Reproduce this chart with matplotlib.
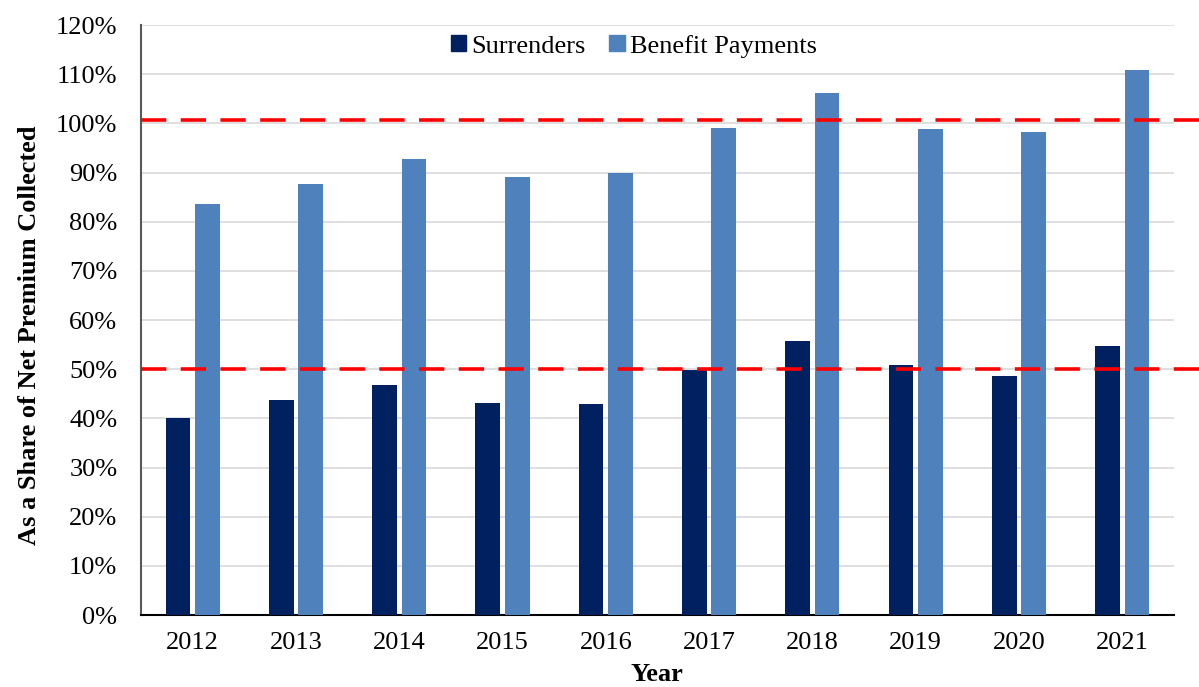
import matplotlib
matplotlib.use('Agg')

import matplotlib.pyplot as plt
import matplotlib.transforms as mtransforms
import numpy as np
from matplotlib.patches import Patch

years = ['2012', '2013', '2014', '2015', '2016', '2017', '2018', '2019', '2020', '2021']
surrenders = [40.0, 43.7, 46.8, 43.2, 43.0, 49.9, 55.7, 50.9, 48.6, 54.7]
benefit_payments = [83.6, 87.6, 92.8, 89.1, 89.8, 99.1, 106.2, 98.9, 98.2, 110.9]
ref_lines = [50.0, 100.6]

yticks = np.arange(0, 121, 10)
ytick_labels = ['%d%%' % v for v in yticks]

plt.rcParams['font.family'] = ['Liberation Serif', 'DejaVu Serif']

fig = plt.figure(figsize=(11.99, 6.87), dpi=100)
ax = fig.add_axes([0.1176, 0.1048, 0.8614, 0.8588])

x = np.arange(len(years))
w = 0.24
gap = 0.045
ax.bar(x - (w + gap) / 2, surrenders, width=w, color='#002060', zorder=3)
ax.bar(x + (w + gap) / 2, benefit_payments, width=w, color='#4F81BD', zorder=3)

# red reference lines run past the right edge of the plot
trans = mtransforms.blended_transform_factory(ax.transAxes, ax.transData)
for yv in ref_lines:
    ax.plot([0, 1.03], [yv, yv], transform=trans, color='#FF0000', lw=2.6,
            dashes=(7, 4), clip_on=False, zorder=4)

ax.set_xlim(-0.5, len(years) - 0.5)
ax.set_ylim(0, 120)
ax.set_yticks(yticks)
ax.set_yticklabels(ytick_labels)
ax.set_xticks(x)
ax.set_xticklabels(years)
ax.tick_params(axis='both', length=0, labelsize=19)
ax.tick_params(axis='y', pad=17)
ax.tick_params(axis='x', pad=12)

ax.grid(axis='y', color='#D9D9D9', lw=1.2, zorder=0)
ax.spines['top'].set_visible(False)
ax.spines['right'].set_visible(False)
ax.spines['left'].set_color('#595959')
ax.spines['left'].set_linewidth(1.5)
ax.spines['bottom'].set_color('black')
ax.spines['bottom'].set_linewidth(1.5)

ax.set_ylabel('As a Share of Net Premium Collected', fontsize=19, fontweight='bold')
ax.yaxis.set_label_coords(-0.097, 0.475)
ax.set_xlabel('Year', fontsize=19, fontweight='bold', labelpad=7)

handles = [Patch(color='#002060'), Patch(color='#4F81BD')]
ax.legend(handles, ['Surrenders', 'Benefit Payments'], loc='upper center',
          bbox_to_anchor=(0.477, 1.024), ncol=2, frameon=False, fontsize=19,
          handlelength=0.58, handleheight=0.58, handletextpad=0.2,
          columnspacing=0.9)

plt.savefig('out.png', dpi=100)
